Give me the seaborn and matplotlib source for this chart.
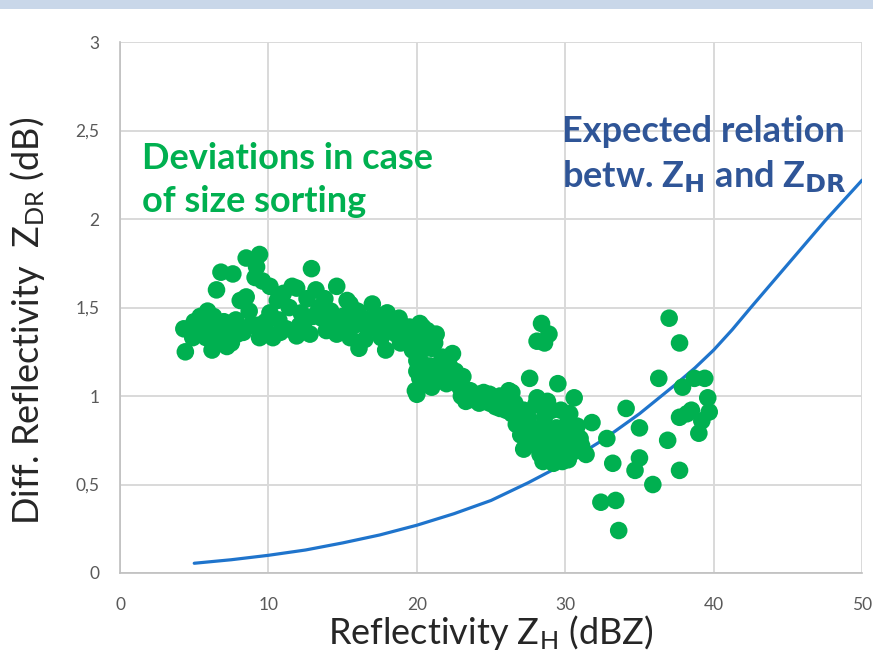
import matplotlib
matplotlib.use("Agg")
import matplotlib.pyplot as plt
import seaborn as sns
import pandas as pd
from matplotlib.patches import Rectangle

# ---- data ----
obs_zh = [4.4, 4.3, 4.9, 5.2, 5.4, 5.9, 5.8, 6.0, 6.2, 6.5, 6.5, 6.8, 7.0, 7.4, 7.5, 7.6, 7.8, 8.1, 8.3, 8.5,
          8.5, 8.7, 9.1, 9.2, 9.4, 9.4, 9.6, 9.3, 10.1, 10.1, 10.1, 10.3, 10.6, 10.7, 11.2, 11.6, 11.9, 11.9, 12.2, 12.1,
          12.6, 12.8, 12.9, 13.2, 13.4, 13.6, 13.9, 14.2, 14.6, 14.6, 15.0, 15.3, 15.5, 15.5, 15.7, 15.8, 16.1, 16.4, 16.7, 17.0,
          17.0, 17.3, 17.6, 17.9, 18.1, 18.3, 18.8, 18.9, 19.3, 19.5, 19.7, 20.2, 20.4, 20.7, 20.6, 20.0, 20.2, 20.0, 19.9, 20.0,
          20.6, 20.9, 21.0, 21.3, 21.5, 21.7, 22.0, 22.2, 22.4, 22.6, 22.9, 23.1, 23.3, 23.6, 24.2, 24.2, 24.6, 24.9, 24.9, 25.3,
          25.6, 25.6, 26.0, 26.2, 26.4, 26.4, 26.9, 26.7,
          27.2, 27.0, 27.6, 27.8, 27.5, 28.0, 28.1, 28.3, 28.5, 28.7, 28.6, 29.1, 29.0, 29.5, 29.6, 29.8, 29.4, 30.1, 30.0, 30.5,
          30.7, 30.6, 31.0, 31.4, 30.2, 28.4, 28.9, 28.1, 28.6,
          31.8, 32.4, 32.8, 33.2, 33.4, 33.6, 34.1, 34.7, 35.0, 35.0, 35.9, 36.3, 36.9, 37.0, 37.7, 37.7, 37.7, 37.9, 38.5, 38.7,
          39.0, 39.4, 39.6, 39.7, 38.2, 39.2,
          5.0, 5.6, 6.3, 6.8, 7.2, 7.9, 8.8, 9.8, 10.8, 11.4, 11.0, 12.4, 13.0, 13.8, 14.3, 15.2, 16.0, 16.5, 17.5, 18.0,
          18.6, 19.0, 19.8, 20.5, 21.2, 20.4, 21.0, 21.8, 22.5, 23.0, 23.8, 24.5, 25.0, 25.8, 26.6, 27.2, 27.4, 28.0, 28.3, 28.9,
          29.3, 29.9, 30.3, 30.8, 31.1, 29.2, 28.8, 29.7]
obs_zdr = [1.25, 1.38, 1.33, 1.36, 1.45, 1.48, 1.33, 1.40, 1.26, 1.30, 1.60, 1.70, 1.42, 1.37, 1.30, 1.69, 1.43, 1.54, 1.36, 1.56,
           1.78, 1.48, 1.67, 1.73, 1.80, 1.33, 1.65, 1.40, 1.35, 1.47, 1.62, 1.33, 1.54, 1.43, 1.38, 1.62, 1.61, 1.34, 1.47, 1.40,
           1.55, 1.35, 1.72, 1.60, 1.50, 1.44, 1.37, 1.48, 1.62, 1.35, 1.45, 1.54, 1.52, 1.33, 1.47, 1.40, 1.27, 1.44, 1.38, 1.52,
           1.41, 1.46, 1.33, 1.26, 1.37, 1.42, 1.44, 1.30, 1.33, 1.39, 1.26, 1.41, 1.39, 1.37, 1.27, 1.20, 1.10, 1.14, 1.03, 1.01,
           1.09, 1.17, 1.27, 1.35, 1.12, 1.22, 1.07, 1.17, 1.24, 1.14, 1.05, 1.11, 0.97, 1.03, 1.01, 0.96, 0.98, 0.96, 1.01, 0.94,
           1.00, 0.93, 0.92, 1.03, 1.02, 0.90, 0.92, 0.84,
           0.70, 0.78, 1.10, 0.76, 0.88, 0.95, 0.99, 0.82, 0.63, 0.75, 0.88, 0.92, 0.68, 1.07, 0.75, 0.63, 0.82, 0.84, 0.72, 0.79,
           0.69, 0.99, 0.76, 0.67, 0.64, 1.41, 1.35, 1.31, 1.30,
           0.85, 0.40, 0.76, 0.62, 0.41, 0.24, 0.93, 0.58, 0.82, 0.65, 0.50, 1.10, 0.75, 1.44, 1.30, 0.88, 0.58, 1.05, 0.92, 1.10,
           0.79, 1.10, 0.99, 0.91, 0.90, 0.86,
           1.42, 1.38, 1.45, 1.35, 1.28, 1.35, 1.40, 1.42, 1.36, 1.50, 1.58, 1.38, 1.45, 1.55, 1.40, 1.38, 1.48, 1.32, 1.40, 1.47,
           1.35, 1.40, 1.33, 1.32, 1.30, 1.18, 1.05, 1.15, 1.10, 1.00, 0.98, 1.02, 0.98, 0.97, 0.96, 0.92, 0.82, 0.72, 0.67, 0.80,
           0.70, 0.78, 0.90, 0.83, 0.72, 0.62, 0.97, 0.92]

rel_zh = [5, 7.5, 10, 12.5, 15, 17.5, 20, 22.5, 25, 27.5, 30, 32.5, 35, 37.5, 38.75, 40, 41.25, 42.5, 45, 47.5, 50]
rel_zdr = [0.055, 0.075, 0.10, 0.13, 0.17, 0.215, 0.27, 0.335, 0.41, 0.51, 0.62, 0.75, 0.90, 1.07, 1.16, 1.26, 1.375,
           1.50, 1.745, 1.99, 2.22]

x_ticks = [0, 10, 20, 30, 40, 50]
y_ticks = [0, 0.5, 1, 1.5, 2, 2.5, 3]
y_tick_labels = ["0", "0,5", "1", "1,5", "2", "2,5", "3"]

# ---- style ----
sns.set_style("white")
plt.rcParams['font.family'] = ['Lato', 'DejaVu Sans']
plt.rcParams['mathtext.default'] = 'regular'

fig = plt.figure(figsize=(8.73, 6.69), dpi=100)
fig.add_artist(Rectangle((0, 1 - 9 / 669), 1, 9 / 669, transform=fig.transFigure,
                         facecolor='#c9d7e9', edgecolor='none'))
ax = fig.add_axes([0.1375, 0.1435, 0.85, 0.7935])

obs = pd.DataFrame({"zh": obs_zh, "zdr": obs_zdr})
rel = pd.DataFrame({"zh": rel_zh, "zdr": rel_zdr})

sns.lineplot(data=rel, x="zh", y="zdr", ax=ax, color='#1f74cc', linewidth=2.3, zorder=2)
sns.scatterplot(data=obs, x="zh", y="zdr", ax=ax, color='#00b050', s=160, edgecolor='none',
                linewidth=0, alpha=1, zorder=3)

ax.set_xlim(0, 50)
ax.set_ylim(0, 3)
ax.set_xticks(x_ticks)
ax.set_yticks(y_ticks)
ax.set_yticklabels(y_tick_labels)
ax.grid(True, color='#d9d9d9', linewidth=1.4)
ax.set_axisbelow(True)
for s in ['top', 'right']:
    ax.spines[s].set_visible(False)
for s in ['left', 'bottom']:
    ax.spines[s].set_color('#bfbfbf')
    ax.spines[s].set_linewidth(1.2)
ax.tick_params(axis='both', which='major', direction='out', length=6, width=1.1, color='#bfbfbf',
               labelcolor='#595959', labelsize=12.5)
ax.tick_params(axis='x', pad=11)
ax.tick_params(axis='y', pad=9)

ax.set_xlabel("Reflectivity Z$_{H}$ (dBZ)", fontsize=26, color='#262626', labelpad=0)
ax.set_ylabel("Diff. Reflectivity  Z$_{DR}$ (dB)", fontsize=26, color='#262626')
ax.yaxis.set_label_coords(-0.098, 0.475)

ax.text(1.5, 2.22, "Deviations in case\nof size sorting", color='#00b050', fontsize=26,
        fontweight='bold', ha='left', va='center', linespacing=1.38)
ax.text(29.8, 2.36, "Expected relation\nbetw. Z$_{\\mathbf{H}}$ and Z$_{\\mathbf{DR}}$", color='#2f5597',
        fontsize=26, fontweight='bold', ha='left', va='center', linespacing=1.36)

fig.savefig("out.png", dpi=100)
